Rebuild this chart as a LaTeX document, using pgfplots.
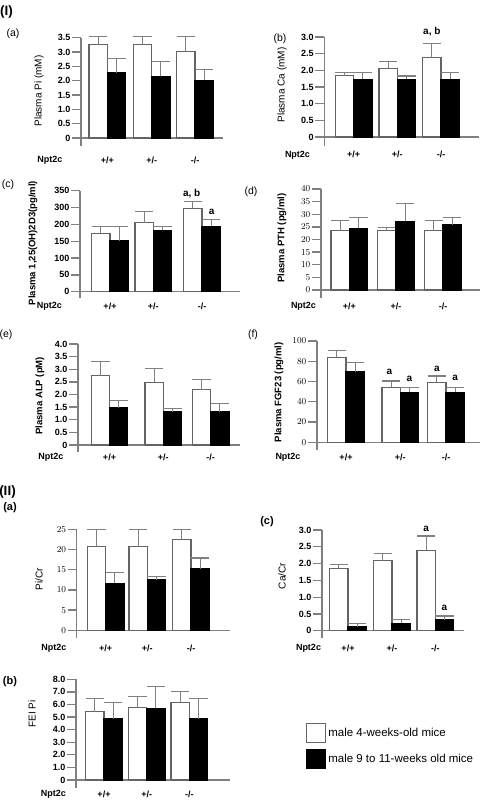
\documentclass[border=0pt]{standalone}
\usepackage{fontspec}
\setmainfont{Liberation Sans}
\usepackage{pgfplots}
\pgfplotsset{compat=1.18}
\definecolor{axgray}{RGB}{128,128,128}
\definecolor{bargray}{RGB}{100,100,100}
\newcommand{\fs}[1]{\fontsize{#1}{#1}\selectfont}
\pgfplotsset{
  panel/.style={
    scale only axis, clip=false,
    axis lines*=left,
    x axis line style={draw=none},
    y axis line style={draw=axgray, line width=1.3pt},
    ytick style={draw=axgray, line width=1.3pt},
    xtick style={draw=none},
    tick align=outside,
    major tick length=9pt,
    xmin=0,
    ticklabel style={font=\bfseries\fs{9}},
    yticklabel style={inner sep=1.5pt},
    xticklabels={+/+,+/-,-/-},
    xticklabel style={anchor=center},
    extra y ticks={0}, extra y tick labels={},
    extra y tick style={grid=major, major grid style={draw=axgray, line width=1.3pt}},
    anchor=south west,
    every axis y label/.style={rotate=90, anchor=center},
  },
  wbar/.style={ybar, bar width=18.3pt, bar shift=0pt, fill=white, draw=bargray, line width=1.1pt,
     error bars/.cd, y dir=plus, y explicit, error bar style={draw=axgray, line width=1.1pt},
     error mark options={rotate=90, draw=axgray, line width=1.1pt, mark size=9.15pt}},
  bbar/.style={ybar, bar width=18.3pt, bar shift=0pt, fill=black, draw=black, line width=1.1pt,
     error bars/.cd, y dir=plus, y explicit, error bar style={draw=axgray, line width=1.1pt},
     error mark options={rotate=90, draw=axgray, line width=1.1pt, mark size=9.15pt}},
}
\begin{document}
\begin{tikzpicture}
\useasboundingbox (0pt,0pt) rectangle (484pt,-800pt);

% ---------- I(a)
\begin{axis}[panel, at={(81pt,-145.5pt)}, width=142pt, height=107.8pt,
  xmax=142, ymin=-0.262, ymax=3.5,
  ytick={0,0.5,1,1.5,2,2.5,3,3.5}, yticklabels={0,0.5,1.0,1.5,2.0,2.5,3.0,3.5},
  xtick={26.3,70.7,114}, xticklabel style={yshift=-5.5pt},
  ylabel={Plasma Pi (mM)}, ylabel style={at={(axis description cs:-0.296,0.506)}, font=\fs{10}}]
\addplot[wbar] table[x=x,y=y,y error=e] {
x y e
17.15 3.26 0.28
61.55 3.26 0.27
104.85 3.01 0.52
};
\addplot[bbar] table[x=x,y=y,y error=e] {
x y e
35.45 2.28 0.49
79.85 2.15 0.51
123.15 2.02 0.37
};
\end{axis}

% ---------- I(b)
\begin{axis}[panel, at={(324.3pt,-145.7pt)}, width=154.4pt, height=108.7pt,
  xmax=154.4, ymin=-0.26, ymax=3.0,
  ytick={0,0.5,1,1.5,2,2.5,3}, yticklabels={0,0.5,1.0,1.5,2.0,2.5,3.0},
  xtick={29.4,73,116.7}, xticklabel style={yshift=0pt},
  ylabel={Plasma Ca (mM)}, ylabel style={at={(axis description cs:-0.274,0.558)}, font=\fs{10}}]
\addplot[wbar] table[x=x,y=y,y error=e] {
x y e
20.25 1.84 0.10
63.85 2.06 0.20
107.55 2.38 0.42
};
\addplot[bbar] table[x=x,y=y,y error=e] {
x y e
38.55 1.73 0.21
82.15 1.73 0.10
125.85 1.73 0.21
};
\node[font=\bfseries\fs{10}] at (axis cs:107.5,3.15) {a, b};
\end{axis}

% ---------- I(c)
\begin{axis}[panel, at={(80pt,-298.3pt)}, width=160pt, height=107.6pt,
  xmax=160, ymin=-19.6, ymax=300,
  ytick={0,50,100,150,200,250,300}, yticklabels={0,50,100,150,200,300,350},
  xtick={30,73.3,122}, xticklabel style={yshift=1.3pt},
  ylabel={Plasma 1,25(OH)2D3(pg/ml)}, ylabel style={at={(axis description cs:-0.294,0.514)}, font=\bfseries\fs{9.5}}]
\addplot[wbar] table[x=x,y=y,y error=e] {
x y e
20.85 173.3 20
64.15 205 32.7
112.85 247.5 19.8
};
\addplot[bbar] table[x=x,y=y,y error=e] {
x y e
39.15 151.5 41.6
82.45 183 10
131.15 195 19.8
};
\node[font=\bfseries\fs{10}] at (axis cs:111.7,292) {a, b};
\node[font=\bfseries\fs{10}] at (axis cs:131.7,237.6) {a};
\end{axis}

% ---------- I(d)
\begin{axis}[panel, at={(321pt,-297.7pt)}, width=159pt, height=108.7pt,
  xmax=159, ymin=-3.05, ymax=40,
  ytick={0,5,10,15,20,25,30,35,40},
  xtick={28.3,75,122}, xticklabel style={yshift=0pt},
  ylabel={Plasma PTH (pg/ml)}, ylabel style={at={(axis description cs:-0.245,0.549)}, font=\bfseries\fs{9.5}}]
\addplot[wbar] table[x=x,y=y,y error=e] {
x y e
19.15 23.4 4.1
65.85 23.4 1.3
112.85 23.4 4.1
};
\addplot[bbar] table[x=x,y=y,y error=e] {
x y e
37.45 24.4 4.2
84.15 27.3 7.0
131.15 25.9 2.7
};
\end{axis}

% ---------- I(e)
\begin{axis}[panel, at={(78pt,-452pt)}, width=162pt, height=108pt,
  xmax=162, ymin=-0.277, ymax=4.0,
  ytick={0,0.5,1,1.5,2,2.5,3,3.5,4}, yticklabels={0,0.5,1.0,1.5,2.0,2.5,3.0,3.5,4.0},
  xtick={31.5,85.3,132.7}, xticklabel style={yshift=4pt},
  ylabel={Plasma ALP (pM)}, ylabel style={at={(axis description cs:-0.235,0.52)}, font=\bfseries\fs{9.5}}]
\addplot[wbar] table[x=x,y=y,y error=e] {
x y e
22.35 2.75 0.55
76.15 2.49 0.53
123.55 2.19 0.42
};
\addplot[bbar] table[x=x,y=y,y error=e] {
x y e
40.65 1.47 0.29
94.45 1.32 0.13
141.85 1.32 0.31
};
\end{axis}

% ---------- I(f)
\begin{axis}[panel, at={(317pt,-450pt)}, width=163pt, height=109pt,
  xmax=163, ymin=-7.6, ymax=100,
  ytick={0,20,40,60,80,100},
  xtick={29,83.3,129}, xticklabel style={yshift=2pt},
  ylabel={Plasma FGF23 (pg/ml)}, ylabel style={at={(axis description cs:-0.233,0.53)}, font=\bfseries\fs{9.5}}]
\addplot[wbar] table[x=x,y=y,y error=e] {
x y e
19.85 83.9 6.6
74.15 54.3 6.2
119.85 59.2 6.3
};
\addplot[bbar] table[x=x,y=y,y error=e] {
x y e
38.15 69.4 9.6
92.45 49.3 5.0
138.15 49.3 5.0
};
\node[font=\bfseries\fs{10}] at (axis cs:72.3,69.4) {a};
\node[font=\bfseries\fs{10}] at (axis cs:92.4,62.5) {a};
\node[font=\bfseries\fs{10}] at (axis cs:119.9,72.4) {a};
\node[font=\bfseries\fs{10}] at (axis cs:138.2,63.5) {a};
\end{axis}

% ---------- II(a)
\begin{axis}[panel, at={(76.7pt,-638pt)}, width=153.3pt, height=108.7pt,
  xmax=153.3, ymin=-1.9, ymax=25,
  ytick={0,5,10,15,20,25},
  xtick={29,70.6,114.3}, xticklabel style={yshift=-1pt},
  ylabel={Pi/Cr}, ylabel style={at={(axis description cs:-0.246,0.543)}, font=\fs{10}}]
\addplot[wbar] table[x=x,y=y,y error=e] {
x y e
19.85 20.7 4.3
61.45 20.7 4.3
105.15 22.5 2.5
};
\addplot[bbar] table[x=x,y=y,y error=e] {
x y e
38.15 11.6 2.8
79.75 12.5 0.9
123.45 15.3 2.6
};
\end{axis}

% ---------- II(c)
\begin{axis}[panel, at={(322pt,-638pt)}, width=141.7pt, height=108pt,
  xmax=141.7, ymin=-0.217, ymax=3.0,
  ytick={0,0.5,1,1.5,2,2.5,3}, yticklabels={0,0.5,1.0,1.5,2.0,2.5,3.0},
  xtick={26,70,113.3}, xticklabel style={yshift=-1pt},
  ylabel={Ca/Cr}, ylabel style={at={(axis description cs:-0.282,0.574)}, font=\fs{10}},
  legend style={at={(axis description cs:-0.113,-0.787)}, anchor=north west, draw=none, fill=none,
    font=\fs{11.5}, inner sep=0pt, row sep=6pt},
  legend cell align=left]
\addplot[/pgfplots/legend image code/.code={\draw[fill=white, draw=bargray, line width=1.1pt] (0pt,-9.5pt) rectangle (19pt,9.5pt);}, wbar] table[x=x,y=y,y error=e] {
x y e
16.85 1.86 0.10
60.85 2.08 0.21
104.15 2.40 0.42
};
\addlegendentry{male 4-weeks-old mice}
\addplot[/pgfplots/legend image code/.code={\draw[fill=black, draw=black, line width=1.1pt] (0pt,-9.5pt) rectangle (19pt,9.5pt);}, bbar] table[x=x,y=y,y error=e] {
x y e
35.15 0.12 0.10
79.15 0.22 0.12
122.45 0.32 0.12
};
\addlegendentry{male 9 to 11-weeks old mice}
\node[font=\bfseries\fs{10}] at (axis cs:104.2,3.03) {a};
\node[font=\bfseries\fs{10}] at (axis cs:122.5,0.68) {a};
\end{axis}

% ---------- II(b)
\begin{axis}[panel, at={(76pt,-788pt)}, width=154pt, height=108.7pt,
  xmax=154, ymin=-0.635, ymax=8.0,
  ytick={0,1,2,3,4,5,6,7,8}, yticklabels={0,1.0,2.0,3.0,4.0,5.0,6.0,7.0,8.0},
  xtick={28,70.7,113.3}, xticklabel style={yshift=3pt},
  ylabel={FEI Pi}, ylabel style={at={(axis description cs:-0.286,0.68)}, font=\fs{10}}]
\addplot[wbar] table[x=x,y=y,y error=e] {
x y e
18.85 5.43 1.01
61.55 5.75 0.85
104.15 6.17 0.85
};
\addplot[bbar] table[x=x,y=y,y error=e] {
x y e
37.15 4.87 1.30
79.85 5.70 1.72
122.45 4.87 1.62
};
\end{axis}

% ---------- labels
\node[font=\bfseries\fs{13.5}] at (6.5pt,-12pt) {(I)};
\node[font=\fs{10.5}] at (13pt,-34pt) {(a)};
\node[font=\fs{10.5}] at (280pt,-39pt) {(b)};
\node[font=\fs{10.5}] at (8pt,-185pt) {(c)};
\node[font=\fs{10.5}] at (251pt,-191.7pt) {(d)};
\node[font=\fs{10.5}] at (6pt,-335pt) {(e)};
\node[font=\fs{10.5}] at (253pt,-335pt) {(f)};
\node[font=\bfseries\fs{13.5}] at (7.5pt,-492pt) {(II)};
\node[font=\bfseries\fs{11}] at (10pt,-508pt) {(a)};
\node[font=\bfseries\fs{11}] at (10pt,-682pt) {(b)};
\node[font=\bfseries\fs{11}] at (267pt,-522pt) {(c)};
\foreach \x/\y in {50/160, 297.5/155, 49.5/306, 303.5/306.7, 51/457, 288/457, 54/648, 308.5/648, 53.5/794}
  \node[font=\bfseries\fs{9}] at (\x pt,-\y pt) {Npt2c};
\end{tikzpicture}
\end{document}
